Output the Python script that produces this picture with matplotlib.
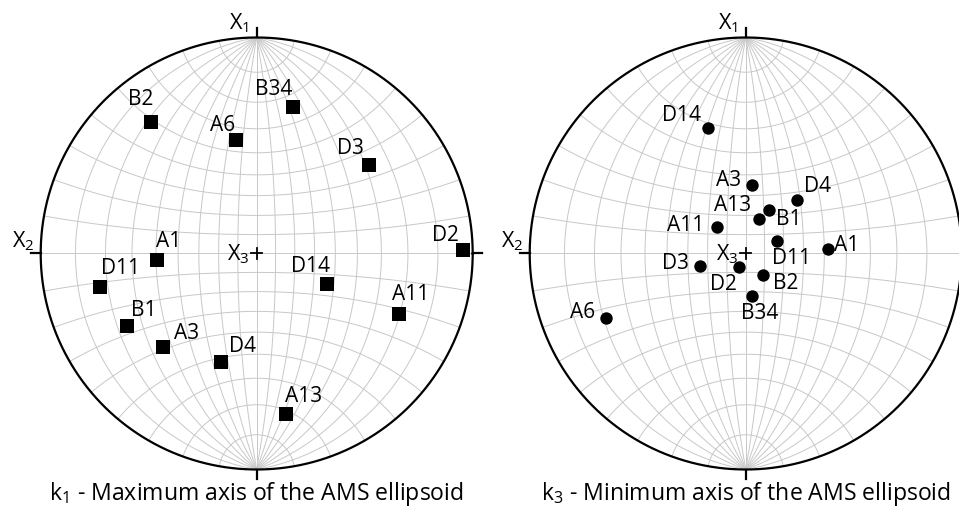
import numpy as np
import matplotlib.pyplot as plt

plt.rcParams['font.family'] = ['Open Sans', 'DejaVu Sans']
plt.rcParams['mathtext.fontset'] = 'custom'
plt.rcParams['mathtext.rm'] = 'Open Sans'
plt.rcParams['mathtext.it'] = 'Open Sans'

# k1 axes, projected position on the net (unit = net radius)
k1_labels = ['B2', 'A6', 'B34', 'D3', 'D2', 'A1', 'D11', 'D14', 'A11', 'B1', 'A3', 'D4', 'A13']
k1_x = [-0.489, -0.096, 0.167, 0.518, 0.954, -0.463, -0.725, 0.324, 0.660, -0.602, -0.435, -0.167, 0.134]
k1_y = [0.610, 0.525, 0.680, 0.411, 0.016, -0.030, -0.154, -0.143, -0.280, -0.336, -0.431, -0.502, -0.743]

# k3 axes
k3_labels = ['D14', 'A3', 'D4', 'A13', 'B1', 'A11', 'D11', 'A1', 'D3', 'D2', 'B2', 'B34', 'A6']
k3_x = [-0.176, 0.028, 0.239, 0.063, 0.109, -0.134, 0.144, 0.383, -0.212, -0.031, 0.082, 0.031, -0.647]
k3_y = [0.583, 0.316, 0.248, 0.158, 0.201, 0.124, 0.059, 0.019, -0.056, -0.064, -0.100, -0.197, -0.300]

titles = ['k$_1$ - Maximum axis of the AMS ellipsoid',
          'k$_3$ - Minimum axis of the AMS ellipsoid']

# label offsets in pixels (dx right, dy up)
k1_off = {'B2': (-10, 22), 'A6': (-13, 15), 'B34': (-19, 17), 'D3': (-18, 16), 'D2': (-17, 15),
          'A1': (12, 18), 'D11': (20, 18), 'D14': (-16, 18), 'A11': (11, 19), 'B1': (17, 16),
          'A3': (24, 13), 'D4': (22, 15), 'A13': (18, 17)}
k3_off = {'D14': (-26, 12), 'A3': (-23, 5), 'D4': (20, 13), 'A13': (-27, 14), 'B1': (20, -9),
          'A11': (-31, 1), 'D11': (15, -18), 'A1': (18, 4), 'D3': (-24, 2), 'D2': (-16, -17),
          'B2': (22, -8), 'B34': (7, -17), 'A6': (-23, 6)}


def project(lat, lon):
    # stereographic (Wulff) projection, pole axis vertical
    lat, lon = np.radians(lat), np.radians(lon)
    x = np.cos(lat) * np.sin(lon)
    y = np.sin(lat)
    z = np.cos(lat) * np.cos(lon)
    return x / (1 + z), y / (1 + z)


def draw_net(ax):
    t = np.linspace(-90, 90, 181)
    grid = dict(color='#c8c8c8', lw=0.7, zorder=1)
    for lon in range(-80, 90, 10):
        ax.plot(*project(t, np.full_like(t, lon)), **grid)
    for lat in range(-80, 90, 10):
        ax.plot(*project(np.full_like(t, lat), t), **grid)
    a = np.linspace(0, 2 * np.pi, 400)
    ax.plot(np.cos(a), np.sin(a), color='black', lw=1.6, zorder=2)
    k = dict(color='black', lw=1.6, zorder=2, clip_on=False)
    ax.plot([0, 0], [1, 1.045], **k)
    ax.plot([0, 0], [-1, -1.045], **k)
    ax.plot([-1, -1.045], [0, 0], **k)
    ax.plot([1, 1.045], [0, 0], **k)
    ax.plot([-0.025, 0.025], [0, 0], color='black', lw=1.3, zorder=2)
    ax.plot([0, 0], [-0.025, 0.025], color='black', lw=1.3, zorder=2)
    ax.text(-0.082, 1.068, 'X$_1$', fontsize=15.5, ha='center', va='center')
    ax.text(-1.08, 0.055, 'X$_2$', fontsize=15.5, ha='center', va='center')
    ax.text(-0.085, -0.002, 'X$_3$', fontsize=15.5, ha='center', va='center')


fig = plt.figure(figsize=(9.59, 5.08), dpi=100)
L = 1.17
R = 216
centers = [(256.7, 253.5), (745.7, 253.5)]
data = [(k1_x, k1_y, k1_labels, k1_off, 's'), (k3_x, k3_y, k3_labels, k3_off, 'o')]

for (cx, cy), (xs, ys, labs, offs, mk), title in zip(centers, data, titles):
    ax = fig.add_axes([(cx - L * R) / 959, (508 - cy - L * R) / 508, 2 * L * R / 959, 2 * L * R / 508])
    ax.set_xlim(-L, L)
    ax.set_ylim(-L, L)
    ax.axis('off')
    draw_net(ax)
    size = 88 if mk == 's' else 80
    ax.scatter(xs, ys, marker=mk, s=size, color='black', zorder=3, linewidths=0)
    for x, y, lab in zip(xs, ys, labs):
        ax.annotate(lab, (x, y), xytext=offs[lab], textcoords='offset pixels',
                    fontsize=15, ha='center', va='center')
    ax.text(0, -1.112, title, fontsize=16.6, ha='center', va='center')

fig.savefig('out.png', dpi=100)
